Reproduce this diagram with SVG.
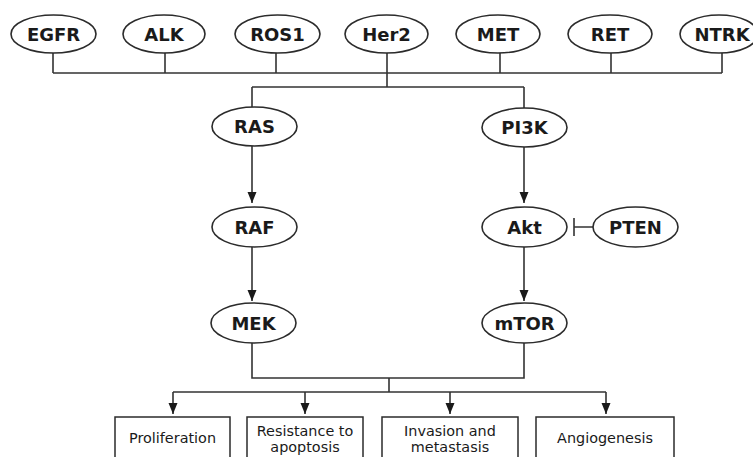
<svg xmlns="http://www.w3.org/2000/svg" width="753" height="457" viewBox="0 0 753 457">
<style>
.n ellipse{fill:#fff;stroke:#2b2b2b;stroke-width:1.6}
.n text{font-family:"DejaVu Sans",Verdana,sans-serif;font-weight:bold;font-size:18px;fill:#1a1a1a;text-anchor:middle}
.b rect{fill:#fff;stroke:#2b2b2b;stroke-width:1.5}
.b text{font-family:"DejaVu Sans",Verdana,sans-serif;font-size:14.4px;fill:#1a1a1a;text-anchor:middle}
.c path{fill:none;stroke:#333;stroke-width:1.6}
</style>
<defs>
<marker id="arr" markerUnits="userSpaceOnUse" markerWidth="12" markerHeight="12" viewBox="0 0 12 12" refX="11" refY="6" orient="auto">
<path d="M0,1.5 L11,6 L0,10.5 Z" fill="#1a1a1a"/>
</marker>
</defs>
<rect width="753" height="457" fill="#fff"/>
<g id="connectors" class="c">
<path d="M53,53 V73 M165,53 V73 M276,53 V73 M500,53 V73 M611,53 V73 M722,53 V73 M53,73 H722"/>
<path d="M387,53 V87 M252,87 H524 M252,87 V107 M524,87 V108"/>
<path d="M252,146 V203" marker-end="url(#arr)"/>
<path d="M524,147 V203" marker-end="url(#arr)"/>
<path d="M252,247 V301" marker-end="url(#arr)"/>
<path d="M524,247 V301" marker-end="url(#arr)"/>
<path d="M593,227 H574 M574,218 V236"/>
<path d="M252,343 V378 H524 V343 M389,378 V392 M173,392 H606"/>
<path d="M173,392 V414" marker-end="url(#arr)"/>
<path d="M305,392 V414" marker-end="url(#arr)"/>
<path d="M450,392 V414" marker-end="url(#arr)"/>
<path d="M606,392 V414" marker-end="url(#arr)"/>
</g>
<g id="EGFR" class="n"><ellipse cx="53.5" cy="34" rx="42.5" ry="19"/><text x="53.5" y="41">EGFR</text></g>
<g id="ALK" class="n"><ellipse cx="164" cy="34" rx="41" ry="19"/><text x="164" y="41">ALK</text></g>
<g id="ROS1" class="n"><ellipse cx="277.5" cy="34" rx="42.5" ry="19"/><text x="277.5" y="41">ROS1</text></g>
<g id="Her2" class="n"><ellipse cx="386.5" cy="34" rx="41.5" ry="19"/><text x="386.5" y="41">Her2</text></g>
<g id="MET" class="n"><ellipse cx="498" cy="34" rx="42" ry="19"/><text x="498" y="41">MET</text></g>
<g id="RET" class="n"><ellipse cx="610" cy="34" rx="42" ry="19"/><text x="610" y="41">RET</text></g>
<g id="NTRK" class="n"><ellipse cx="719" cy="34" rx="39" ry="19"/><text x="722" y="41">NTRK</text></g>
<g id="RAS" class="n"><ellipse cx="254.5" cy="126.5" rx="42.5" ry="19.5"/><text x="254.5" y="133">RAS</text></g>
<g id="PI3K" class="n"><ellipse cx="524.5" cy="127.5" rx="42.5" ry="19.5"/><text x="524.5" y="134">PI3K</text></g>
<g id="RAF" class="n"><ellipse cx="254.5" cy="227" rx="42.5" ry="20"/><text x="254.5" y="233.5">RAF</text></g>
<g id="Akt" class="n"><ellipse cx="524.5" cy="227" rx="42.5" ry="20"/><text x="524.5" y="233.5">Akt</text></g>
<g id="PTEN" class="n"><ellipse cx="635.5" cy="227" rx="42.5" ry="20"/><text x="635.5" y="233.5">PTEN</text></g>
<g id="MEK" class="n"><ellipse cx="253.5" cy="323" rx="42.5" ry="20"/><text x="253.5" y="329.5">MEK</text></g>
<g id="mTOR" class="n"><ellipse cx="524.5" cy="323" rx="42.5" ry="20"/><text x="524.5" y="329.5">mTOR</text></g>
<g id="Proliferation" class="b"><rect x="115" y="417" width="115" height="50"/><text x="172.5" y="443">Proliferation</text></g>
<g id="Resistance" class="b"><rect x="247" y="417" width="116" height="50"/><text x="305" y="436">Resistance to</text><text x="305" y="452">apoptosis</text></g>
<g id="Invasion" class="b"><rect x="382" y="417" width="136" height="50"/><text x="450" y="436">Invasion and</text><text x="450" y="452">metastasis</text></g>
<g id="Angiogenesis" class="b"><rect x="536" y="417" width="138" height="50"/><text x="605" y="443">Angiogenesis</text></g>
</svg>
